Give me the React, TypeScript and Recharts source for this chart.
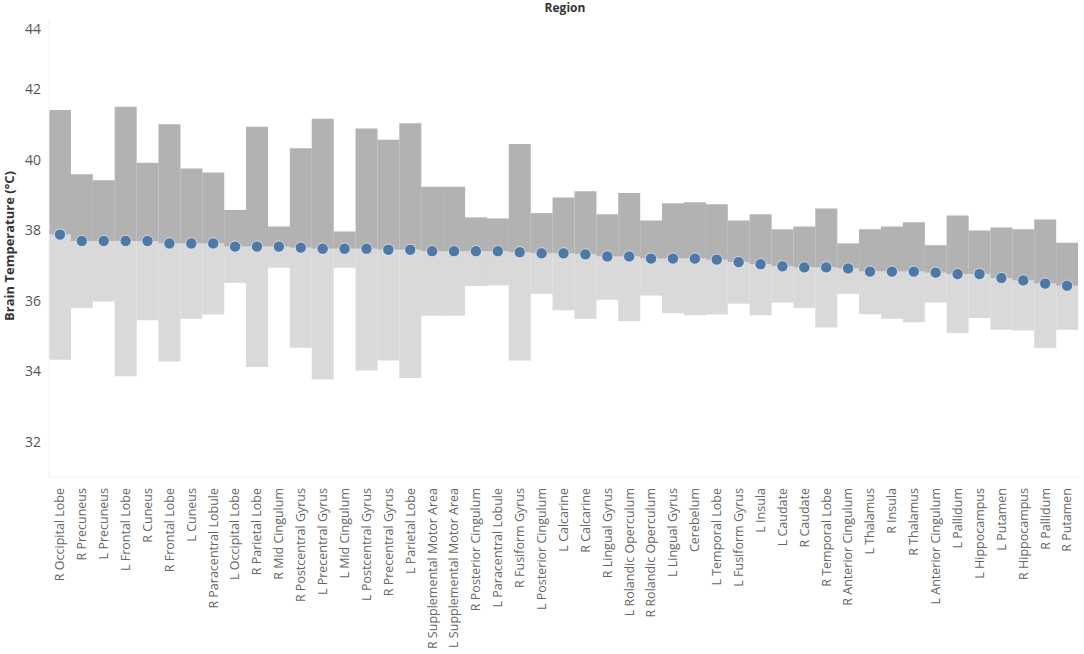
import React from 'react'
import { ComposedChart, Bar, Scatter, XAxis, YAxis } from 'recharts'

/* Brain temperature by region: min / mean / max */

const regions = [
  'R Occipital Lobe', 'R Precuneus', 'L Precuneus', 'L Frontal Lobe', 'R Cuneus', 'R Frontal Lobe',
  'L Cuneus', 'R Paracentral Lobule', 'L Occipital Lobe', 'R Parietal Lobe', 'R Mid Cingulum',
  'R Postcentral Gyrus', 'L Precentral Gyrus', 'L Mid Cingulum', 'L Postcentral Gyrus',
  'R Precentral Gyrus', 'L Parietal Lobe', 'R Supplemental Motor Area', 'L Supplemental Motor Area',
  'R Posterior Cingulum', 'L Paracentral Lobule', 'R Fusiform Gyrus', 'L Posterior Cingulum',
  'L Calcarine', 'R Calcarine', 'R Lingual Gyrus', 'L Rolandic Operculum', 'R Rolandic Operculum',
  'L Lingual Gyrus', 'Cerebelum', 'L Temporal Lobe', 'L Fusiform Gyrus', 'L Insula', 'L Caudate',
  'R Caudate', 'R Temporal Lobe', 'R Anterior Cingulum', 'L Thalamus', 'R Insula', 'R Thalamus',
  'L Anterior Cingulum', 'L Pallidum', 'L Hippocampus', 'L Putamen', 'R Hippocampus', 'R Pallidum',
  'R Putamen',
]

const maxTemp = [
  41.42, 39.59, 39.42, 41.51, 39.92, 41.01, 39.76, 39.64, 38.58, 40.94, 38.11, 40.33, 41.17, 37.97,
  40.89, 40.57, 41.04, 39.24, 39.24, 38.37, 38.34, 40.45, 38.49, 38.93, 39.11, 38.46, 39.06, 38.28,
  38.77, 38.8, 38.74, 38.28, 38.46, 38.03, 38.11, 38.62, 37.63, 38.03, 38.11, 38.23, 37.58, 38.42,
  38.0, 38.08, 38.03, 38.31, 37.65,
]

const meanTemp = [
  37.88, 37.7, 37.7, 37.7, 37.7, 37.63, 37.63, 37.63, 37.54, 37.54, 37.54, 37.51, 37.48, 37.48,
  37.48, 37.45, 37.45, 37.41, 37.41, 37.41, 37.41, 37.38, 37.35, 37.35, 37.32, 37.26, 37.26, 37.2,
  37.2, 37.2, 37.17, 37.1, 37.04, 36.98, 36.95, 36.95, 36.92, 36.83, 36.83, 36.83, 36.8, 36.76,
  36.76, 36.65, 36.58, 36.49, 36.43,
]

const minTemp = [
  34.33, 35.8, 35.98, 33.86, 35.45, 34.28, 35.49, 35.61, 36.51, 34.12, 36.94, 34.67, 33.77, 36.94,
  34.02, 34.31, 33.81, 35.58, 35.58, 36.42, 36.44, 34.31, 36.2, 35.73, 35.49, 36.03, 35.42, 36.15,
  35.65, 35.59, 35.61, 35.92, 35.59, 35.95, 35.8, 35.24, 36.2, 35.62, 35.49, 35.39, 35.95, 35.09,
  35.51, 35.18, 35.16, 34.66, 35.18,
]

const yTicks = [32, 34, 36, 38, 40, 42, 44]

const data = regions.map((region, i) => ({
  region,
  base: minTemp[i],
  lower: meanTemp[i] - minTemp[i],
  upper: maxTemp[i] - meanTemp[i],
  mean: meanTemp[i],
}))

const FONT = '"Open Sans", "DejaVu Sans", sans-serif'

const XTick = ({ x, y, payload }: any) => (
  <g transform={`translate(${x},${y})`}>
    <text
      transform="rotate(-90)"
      x={-5}
      y={0}
      dy="0.35em"
      textAnchor="end"
      fill="#666"
      fontSize={12.5}
      fontFamily={FONT}
    >
      {payload.value}
    </text>
  </g>
)

const YTick = ({ y, payload }: any) => (
  <text
    x={41}
    y={payload.value === 44 ? y + 10 : y}
    dy="0.35em"
    textAnchor="end"
    fill="#555"
    fontSize={14}
    fontFamily={FONT}
  >
    {payload.value}
  </text>
)

const Dot = ({ cx, cy }: any) => (
  <circle cx={cx} cy={cy} r={5.6} fill="#4e79a7" stroke="#ffffff" strokeWidth={0.6} />
)

export default function App() {
  return (
    <div style={{ position: 'absolute', left: 0, top: 0, width: 1084, height: 654, background: '#fff', fontFamily: FONT }}>
      <div
        style={{
          position: 'absolute',
          left: 540,
          top: 0,
          width: 50,
          textAlign: 'center',
          fontSize: 12,
          fontWeight: 700,
          color: '#333',
          lineHeight: '15px',
        }}
      >
        Region
      </div>
      <div
        style={{
          position: 'absolute',
          left: 9,
          top: 246,
          transform: 'translate(-50%, -50%) rotate(-90deg)',
          whiteSpace: 'nowrap',
          fontSize: 13,
          fontWeight: 700,
          color: '#333',
        }}
      >
        Brain Temperature (°C)
      </div>
      <ComposedChart
        width={1084}
        height={654}
        data={data}
        margin={{ top: 19, right: 6, bottom: 0, left: 0 }}
        barCategoryGap={0}
        barGap={0}
      >
        <XAxis
          dataKey="region"
          interval={0}
          height={177}
          tickLine={false}
          tickMargin={0}
          axisLine={{ stroke: '#f0f0f0' }}
          tick={<XTick />}
        />
        <YAxis
          width={49}
          domain={[31, 44]}
          ticks={yTicks}
          allowDataOverflow
          tickLine={false}
          axisLine={{ stroke: '#f0f0f0' }}
          tick={<YTick />}
        />
        <Bar dataKey="base" stackId="t" fill="transparent" isAnimationActive={false} />
        <Bar dataKey="lower" stackId="t" fill="#d9d9d9" isAnimationActive={false} />
        <Bar dataKey="upper" stackId="t" fill="#b2b2b2" isAnimationActive={false} />
        <Scatter dataKey="mean" shape={<Dot />} isAnimationActive={false} />
      </ComposedChart>
    </div>
  )
}
